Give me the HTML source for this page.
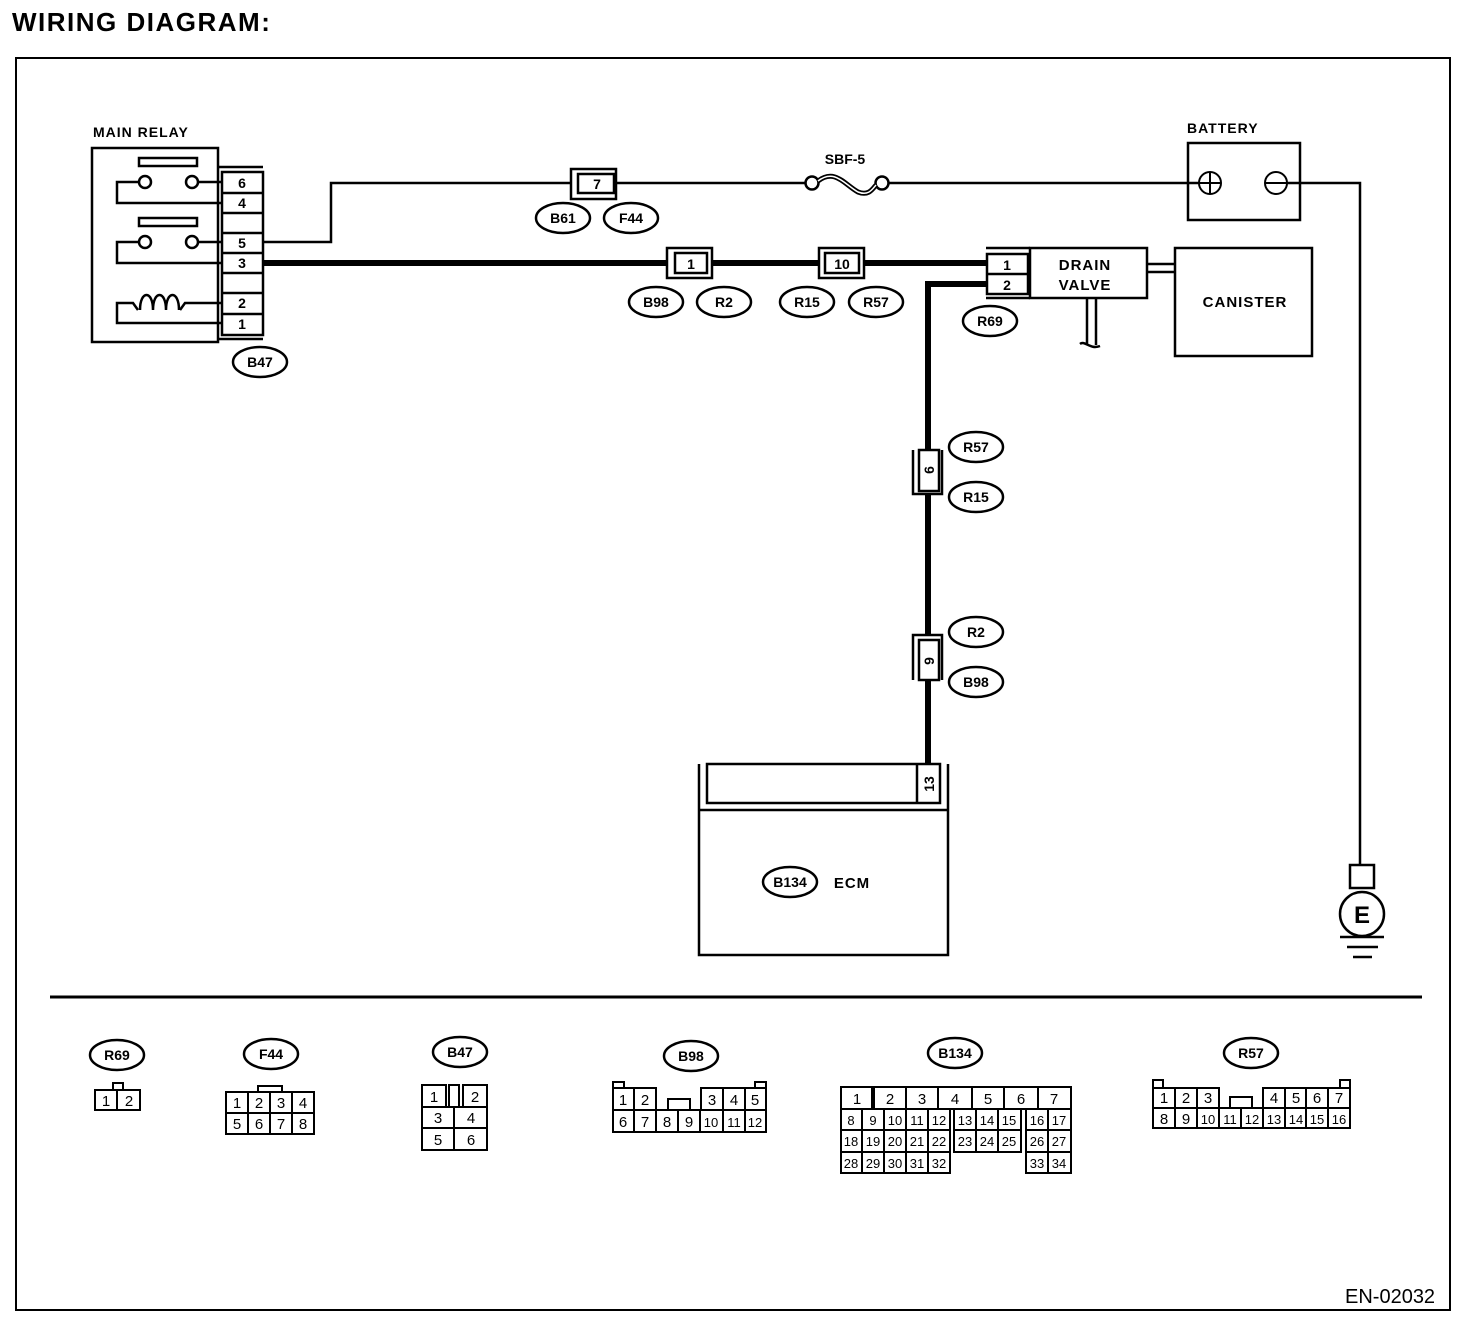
<!DOCTYPE html>
<html><head><meta charset="utf-8"><style>
html,body{margin:0;padding:0;background:#fff}
svg{display:block}
text{font-family:"Liberation Sans",sans-serif;fill:#000}
.b{font-weight:bold}
</style></head><body>
<svg width="1472" height="1326" viewBox="0 0 1472 1326" xmlns="http://www.w3.org/2000/svg">
<g fill="none" stroke="#000">
<text x="12" y="31" class="b" font-size="26" stroke="none" letter-spacing="1.5">WIRING DIAGRAM:</text>
<rect x="16" y="58" width="1434" height="1252" stroke-width="2"/>
<line x1="50" y1="997" x2="1422" y2="997" stroke-width="3"/>
<text x="1345" y="1303" font-size="20" stroke="none">EN-02032</text>

<!-- MAIN RELAY -->
<text x="93" y="137" class="b" font-size="14" stroke="none" letter-spacing="1">MAIN RELAY</text>
<rect x="92" y="148" width="126" height="194" stroke-width="2.5"/>
<rect x="139" y="158" width="58" height="8" stroke-width="2.5"/>
<rect x="139" y="218" width="58" height="8" stroke-width="2.5"/>
<g stroke-width="2.5">
<circle cx="145" cy="182" r="6"/><circle cx="192" cy="182" r="6"/>
<polyline points="139,182 117,182 117,203 222,203"/><line x1="198" y1="182" x2="222" y2="182"/>
<circle cx="145" cy="242" r="6"/><circle cx="192" cy="242" r="6"/>
<polyline points="139,242 117,242 117,263 222,263"/><line x1="198" y1="242" x2="222" y2="242"/>
<path d="M222,303 H185 L180,310 M138,310 L133,303 H117 V323 H222"/>
<path d="M140,310 C140,290 153,290 153,310 M153,310 C153,290 166,290 166,310 M166,310 C166,290 179,290 179,310"/>
<line x1="219" y1="167" x2="263" y2="167"/><line x1="219" y1="339" x2="263" y2="339"/>
<rect x="222" y="172" width="41" height="163"/>
<line x1="222" y1="193" x2="263" y2="193"/><line x1="222" y1="213" x2="263" y2="213"/>
<line x1="222" y1="233" x2="263" y2="233"/><line x1="222" y1="253" x2="263" y2="253"/>
<line x1="222" y1="273" x2="263" y2="273"/><line x1="222" y1="293" x2="263" y2="293"/>
<line x1="222" y1="314" x2="263" y2="314"/>
</g>
<g class="b" font-size="14" stroke="none" text-anchor="middle">
<text x="242" y="188">6</text><text x="242" y="208">4</text><text x="242" y="248">5</text>
<text x="242" y="268">3</text><text x="242" y="308">2</text><text x="242" y="329">1</text>
</g>

<!-- wires -->
<polyline points="263,242 331,242 331,183 572,183" stroke-width="2.5"/>
<line x1="616" y1="183" x2="806" y2="183" stroke-width="2.5"/>
<line x1="888" y1="183" x2="1199" y2="183" stroke-width="2.5"/>
<polyline points="1287,183 1360,183 1360,865" stroke-width="2.5"/>
<line x1="263" y1="263" x2="987" y2="263" stroke-width="6"/>
<polyline points="987,284 928,284 928,765" stroke-width="6"/>

<!-- connector 7 -->
<rect x="571" y="169" width="45" height="30" fill="#fff" stroke-width="2.5"/>
<rect x="578" y="174" width="36" height="19" fill="#fff" stroke-width="2.5"/>
<text x="597" y="189" class="b" font-size="14" stroke="none" text-anchor="middle">7</text>
<!-- fuse -->
<text x="845" y="164" class="b" font-size="14" stroke="none" text-anchor="middle">SBF-5</text>
<circle cx="812" cy="183" r="6.5" stroke-width="2.5"/><circle cx="882" cy="183" r="6.5" stroke-width="2.5"/>
<path d="M818,181 C835,168 845,185 858,192 C868,196 872,190 876,185" stroke-width="5"/>
<path d="M818,181 C835,168 845,185 858,192 C868,196 872,190 876,185" stroke="#fff" stroke-width="1.5"/>
<!-- battery -->
<text x="1187" y="133" class="b" font-size="14" stroke="none" letter-spacing="1">BATTERY</text>
<rect x="1188" y="143" width="112" height="77" stroke-width="2.5"/>
<circle cx="1210" cy="183" r="11" stroke-width="2"/>
<line x1="1210" y1="172" x2="1210" y2="194" stroke-width="2"/><line x1="1199" y1="183" x2="1221" y2="183" stroke-width="2"/>
<circle cx="1276" cy="183" r="11" stroke-width="2"/>
<line x1="1265" y1="183" x2="1287" y2="183" stroke-width="2"/>
<!-- ground -->
<rect x="1350" y="865" width="24" height="23" stroke-width="2.5"/>
<circle cx="1362" cy="914" r="22" stroke-width="2.5" fill="#fff"/>
<text x="1362" y="923" class="b" font-size="24" stroke="none" text-anchor="middle">E</text>
<line x1="1340" y1="937" x2="1384" y2="937" stroke-width="2.5"/>
<line x1="1347" y1="947" x2="1378" y2="947" stroke-width="2.5"/>
<line x1="1353" y1="957" x2="1372" y2="957" stroke-width="2.5"/>

<!-- connector 1 & 10 -->
<rect x="667" y="248" width="45" height="30" fill="#fff" stroke-width="2.5"/>
<rect x="675" y="253" width="32" height="20" fill="#fff" stroke-width="2.5"/>
<text x="691" y="269" class="b" font-size="14" stroke="none" text-anchor="middle">1</text>
<rect x="819" y="248" width="45" height="30" fill="#fff" stroke-width="2.5"/>
<rect x="825" y="253" width="34" height="20" fill="#fff" stroke-width="2.5"/>
<text x="842" y="269" class="b" font-size="14" stroke="none" text-anchor="middle">10</text>

<!-- drain valve -->
<line x1="986" y1="248" x2="1030" y2="248" stroke-width="2.5"/>
<line x1="986" y1="298" x2="1030" y2="298" stroke-width="2.5"/>
<rect x="987" y="254" width="41" height="40" fill="#fff" stroke-width="2.5"/>
<line x1="987" y1="274" x2="1028" y2="274" stroke-width="2.5"/>
<text x="1007" y="270" class="b" font-size="14" stroke="none" text-anchor="middle">1</text>
<text x="1007" y="290" class="b" font-size="14" stroke="none" text-anchor="middle">2</text>
<rect x="1030" y="248" width="117" height="50" stroke-width="2.5"/>
<text x="1085" y="270" class="b" font-size="15" stroke="none" text-anchor="middle" letter-spacing="1">DRAIN</text>
<text x="1085" y="290" class="b" font-size="15" stroke="none" text-anchor="middle" letter-spacing="1">VALVE</text>
<line x1="1147" y1="264" x2="1175" y2="264" stroke-width="2.5"/>
<line x1="1147" y1="272" x2="1175" y2="272" stroke-width="2.5"/>
<path d="M1087,298 V345 M1096,298 V345 M1080,344 C1085,340 1090,350 1100,346" stroke-width="2.5"/>
<rect x="1175" y="248" width="137" height="108" stroke-width="2.5"/>
<text x="1245" y="307" class="b" font-size="15" stroke="none" text-anchor="middle" letter-spacing="1">CANISTER</text>

<!-- vertical connectors -->
<path d="M913,450 V494 H942 V450" stroke-width="2.5" fill="#fff"/>
<rect x="919" y="450" width="20" height="41" fill="#fff" stroke-width="2.5"/>
<text transform="translate(929,470) rotate(-90)" class="b" font-size="14" stroke="none" text-anchor="middle" dy="5">6</text>
<path d="M913,680 V635 H942 V680" stroke-width="2.5" fill="#fff"/>
<rect x="919" y="640" width="20" height="40" fill="#fff" stroke-width="2.5"/>
<text transform="translate(929,661) rotate(-90)" class="b" font-size="14" stroke="none" text-anchor="middle" dy="5">9</text>

<!-- ECM -->
<path d="M699,764 V955 H948 V764" stroke-width="2.5"/>
<line x1="699" y1="810" x2="948" y2="810" stroke-width="2.5"/>
<rect x="707" y="764" width="233" height="39" stroke-width="2.5"/>
<line x1="917" y1="764" x2="917" y2="803" stroke-width="2.5"/>
<text transform="translate(929,784) rotate(-90)" class="b" font-size="14" stroke="none" text-anchor="middle" dy="5">13</text>
<text x="852" y="888" class="b" font-size="15" stroke="none" text-anchor="middle" letter-spacing="1">ECM</text>

<!-- ovals -->
<g stroke-width="2.5">
<ellipse cx="260" cy="362" rx="27" ry="15"/>
<ellipse cx="563" cy="218" rx="27" ry="15"/><ellipse cx="631" cy="218" rx="27" ry="15"/>
<ellipse cx="656" cy="302" rx="27" ry="15"/><ellipse cx="724" cy="302" rx="27" ry="15"/>
<ellipse cx="807" cy="302" rx="27" ry="15"/><ellipse cx="876" cy="302" rx="27" ry="15"/>
<ellipse cx="990" cy="321" rx="27" ry="15"/>
<ellipse cx="976" cy="447" rx="27" ry="15"/><ellipse cx="976" cy="497" rx="27" ry="15"/>
<ellipse cx="976" cy="632" rx="27" ry="15"/><ellipse cx="976" cy="682" rx="27" ry="15"/>
<ellipse cx="790" cy="882" rx="27" ry="15"/>
<ellipse cx="117" cy="1055" rx="27" ry="15"/><ellipse cx="271" cy="1054" rx="27" ry="15"/>
<ellipse cx="460" cy="1052" rx="27" ry="15"/><ellipse cx="691" cy="1056" rx="27" ry="15"/>
<ellipse cx="955" cy="1053" rx="27" ry="15"/><ellipse cx="1251" cy="1053" rx="27" ry="15"/>
</g>
<g class="b" font-size="14" stroke="none" text-anchor="middle">
<text x="260" y="367">B47</text><text x="563" y="223">B61</text><text x="631" y="223">F44</text>
<text x="656" y="307">B98</text><text x="724" y="307">R2</text><text x="807" y="307">R15</text><text x="876" y="307">R57</text>
<text x="990" y="326">R69</text><text x="976" y="452">R57</text><text x="976" y="502">R15</text>
<text x="976" y="637">R2</text><text x="976" y="687">B98</text><text x="790" y="887">B134</text>
<text x="117" y="1060">R69</text><text x="271" y="1059">F44</text><text x="460" y="1057">B47</text>
<text x="691" y="1061">B98</text><text x="955" y="1058">B134</text><text x="1251" y="1058">R57</text>
</g>

<!-- bottom connectors -->
<g stroke-width="2" font-size="14">
<!-- R69 -->
<rect x="113" y="1083" width="10" height="7"/>
<rect x="95" y="1090" width="45" height="20"/><line x1="117" y1="1090" x2="117" y2="1110"/>
<!-- F44 -->
<rect x="258" y="1086" width="24" height="6"/>
<rect x="226" y="1092" width="88" height="42"/>
<line x1="226" y1="1113" x2="314" y2="1113"/>
<line x1="248" y1="1092" x2="248" y2="1134"/><line x1="270" y1="1092" x2="270" y2="1134"/><line x1="292" y1="1092" x2="292" y2="1134"/>
<!-- B47 -->
<rect x="422" y="1085" width="24" height="22"/><rect x="449" y="1085" width="10" height="22"/><rect x="463" y="1085" width="24" height="22"/>
<rect x="422" y="1107" width="65" height="43"/><line x1="422" y1="1128" x2="487" y2="1128"/><line x1="454" y1="1107" x2="454" y2="1150"/>
<!-- B98 -->
<rect x="613" y="1082" width="11" height="6"/><rect x="755" y="1082" width="11" height="6"/>
<path d="M656,1110 V1088 H613 V1132 H766 V1088 H701 V1110"/>
<path d="M668,1110 V1099 H690 V1110"/>
<line x1="613" y1="1110" x2="766" y2="1110"/>
<line x1="634" y1="1088" x2="634" y2="1132"/><line x1="656" y1="1110" x2="656" y2="1132"/>
<line x1="678" y1="1110" x2="678" y2="1132"/><line x1="700" y1="1110" x2="700" y2="1132"/>
<line x1="723" y1="1088" x2="723" y2="1132"/><line x1="745" y1="1088" x2="745" y2="1132"/>
<!-- B134 -->
<rect x="841" y="1087" width="230" height="22"/>
<line x1="872" y1="1087" x2="872" y2="1109"/><line x1="874" y1="1087" x2="874" y2="1109"/>
<line x1="906" y1="1087" x2="906" y2="1109"/><line x1="938" y1="1087" x2="938" y2="1109"/>
<line x1="972" y1="1087" x2="972" y2="1109"/><line x1="1004" y1="1087" x2="1004" y2="1109"/>
<line x1="1038" y1="1087" x2="1038" y2="1109"/>
<path d="M841,1109 V1173 H950 V1109"/>
<line x1="841" y1="1130" x2="950" y2="1130"/><line x1="841" y1="1152" x2="950" y2="1152"/>
<line x1="862" y1="1109" x2="862" y2="1173"/><line x1="884" y1="1109" x2="884" y2="1173"/>
<line x1="906" y1="1109" x2="906" y2="1173"/><line x1="928" y1="1109" x2="928" y2="1173"/>
<rect x="954" y="1109" width="67" height="43"/><line x1="954" y1="1130" x2="1021" y2="1130"/>
<line x1="976" y1="1109" x2="976" y2="1152"/><line x1="998" y1="1109" x2="998" y2="1152"/>
<path d="M1026,1109 V1173 H1071 V1109"/>
<line x1="1026" y1="1130" x2="1071" y2="1130"/><line x1="1026" y1="1152" x2="1071" y2="1152"/>
<line x1="1048" y1="1109" x2="1048" y2="1173"/>
<!-- R57 -->
<rect x="1153" y="1080" width="10" height="8"/><rect x="1340" y="1080" width="10" height="8"/>
<path d="M1219,1108 V1088 H1153 V1128 H1350 V1088 H1263 V1108"/>
<path d="M1230,1108 V1097 H1252 V1108"/>
<line x1="1153" y1="1108" x2="1350" y2="1108"/>
<line x1="1175" y1="1088" x2="1175" y2="1128"/><line x1="1197" y1="1088" x2="1197" y2="1128"/>
<line x1="1219" y1="1108" x2="1219" y2="1128"/><line x1="1241" y1="1108" x2="1241" y2="1128"/>
<line x1="1263" y1="1108" x2="1263" y2="1128"/><line x1="1285" y1="1088" x2="1285" y2="1128"/>
<line x1="1306" y1="1088" x2="1306" y2="1128"/><line x1="1328" y1="1088" x2="1328" y2="1128"/>
</g>
<g font-size="15" stroke="none" text-anchor="middle">
<text x="106" y="1106">1</text><text x="129" y="1106">2</text>
<text x="237" y="1108">1</text><text x="259" y="1108">2</text><text x="281" y="1108">3</text><text x="303" y="1108">4</text>
<text x="237" y="1129">5</text><text x="259" y="1129">6</text><text x="281" y="1129">7</text><text x="303" y="1129">8</text>
<text x="434" y="1102">1</text><text x="475" y="1102">2</text>
<text x="438" y="1123">3</text><text x="471" y="1123">4</text><text x="438" y="1145">5</text><text x="471" y="1145">6</text>
<text x="623" y="1105">1</text><text x="645" y="1105">2</text><text x="712" y="1105">3</text><text x="734" y="1105">4</text><text x="755" y="1105">5</text>
<text x="623" y="1127">6</text><text x="645" y="1127">7</text><text x="667" y="1127">8</text><text x="689" y="1127">9</text>
<text x="711" y="1127" font-size="13">10</text><text x="734" y="1127" font-size="13">11</text><text x="755" y="1127" font-size="13">12</text>
<text x="857" y="1104">1</text><text x="890" y="1104">2</text><text x="922" y="1104">3</text><text x="955" y="1104">4</text>
<text x="988" y="1104">5</text><text x="1021" y="1104">6</text><text x="1054" y="1104">7</text>
</g>
<g font-size="13" stroke="none" text-anchor="middle">
<text x="851" y="1125">8</text><text x="873" y="1125">9</text><text x="895" y="1125">10</text><text x="917" y="1125">11</text><text x="939" y="1125">12</text>
<text x="965" y="1125">13</text><text x="987" y="1125">14</text><text x="1009" y="1125">15</text><text x="1037" y="1125">16</text><text x="1059" y="1125">17</text>
<text x="851" y="1146">18</text><text x="873" y="1146">19</text><text x="895" y="1146">20</text><text x="917" y="1146">21</text><text x="939" y="1146">22</text>
<text x="965" y="1146">23</text><text x="987" y="1146">24</text><text x="1009" y="1146">25</text><text x="1037" y="1146">26</text><text x="1059" y="1146">27</text>
<text x="851" y="1168">28</text><text x="873" y="1168">29</text><text x="895" y="1168">30</text><text x="917" y="1168">31</text><text x="939" y="1168">32</text>
<text x="1037" y="1168">33</text><text x="1059" y="1168">34</text>
<text x="1164" y="1103" font-size="15">1</text><text x="1186" y="1103" font-size="15">2</text><text x="1208" y="1103" font-size="15">3</text>
<text x="1274" y="1103" font-size="15">4</text><text x="1296" y="1103" font-size="15">5</text><text x="1317" y="1103" font-size="15">6</text><text x="1339" y="1103" font-size="15">7</text>
<text x="1164" y="1124" font-size="15">8</text><text x="1186" y="1124" font-size="15">9</text><text x="1208" y="1124">10</text><text x="1230" y="1124">11</text>
<text x="1252" y="1124">12</text><text x="1274" y="1124">13</text><text x="1296" y="1124">14</text><text x="1317" y="1124">15</text><text x="1339" y="1124">16</text>
</g>
</g>
</svg>
</body></html>
